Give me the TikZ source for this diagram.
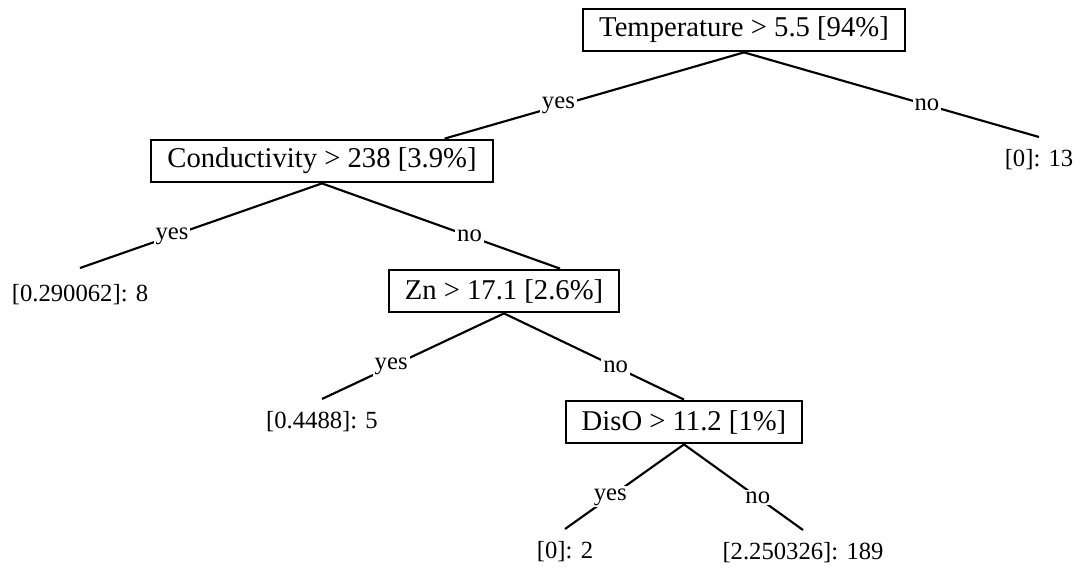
\documentclass[tikz,border=0pt]{standalone}
\usepackage{fontspec}
\setmainfont{Liberation Serif}
\usetikzlibrary{positioning,calc}

\begin{document}
\begin{tikzpicture}[x=0.75pt, y=-0.75pt,
  split/.style={rectangle, draw, line width=1.6pt, minimum height=32pt, inner xsep=12pt, font=\fontsize{21.5}{24}\selectfont},
  leaf/.style={anchor=north, inner xsep=1pt, inner ysep=9pt, font=\fontsize{18.5}{21}\selectfont},
  lbl/.style={fill=white, inner sep=1.5pt, pos=0.62, font=\fontsize{18.5}{21}\selectfont},
  edge/.style={line width=1.6pt}
]
  \useasboundingbox (0,0) rectangle (1083,568);

  % split nodes
  \node[split] (temp) at (744,30) {Temperature > 5.5 [94\%]};
  \node[split] (cond) at (322,161) {Conductivity > 238 [3.9\%]};
  \node[split] (zn) at (504,291) {Zn > 17.1 [2.6\%]};
  \node[split] (diso) at (684,422) {DisO > 11.2 [1\%]};

  % leaves
  \node[leaf] (l13) at (1039,137) {[0]: 13};
  \node[leaf, inner ysep=12pt] (l8) at (80,268) {[0.290062]: 8};
  \node[leaf] (l5) at (322,399) {[0.4488]: 5};
  \node[leaf] (l2) at (565,529) {[0]: 2};
  \node[leaf] (l189) at (803,530) {[2.250326]: 189};

  % branches
  \draw[edge] (temp.south) -- node[lbl]{yes} ([xshift=92pt]cond.north);
  \draw[edge] (temp.south) -- node[lbl]{no} (l13.north);
  \draw[edge] (cond.south) -- node[lbl]{yes} (l8.north);
  \draw[edge] (cond.south) -- node[lbl]{no} ([xshift=42pt]zn.north);
  \draw[edge] (zn.south) -- node[lbl]{yes} (l5.north);
  \draw[edge] (zn.south) -- node[lbl]{no} (diso.north);
  \draw[edge] (diso.south) -- node[lbl]{yes} (l2.north);
  \draw[edge] (diso.south) -- node[lbl]{no} (l189.north);
\end{tikzpicture}
\end{document}
